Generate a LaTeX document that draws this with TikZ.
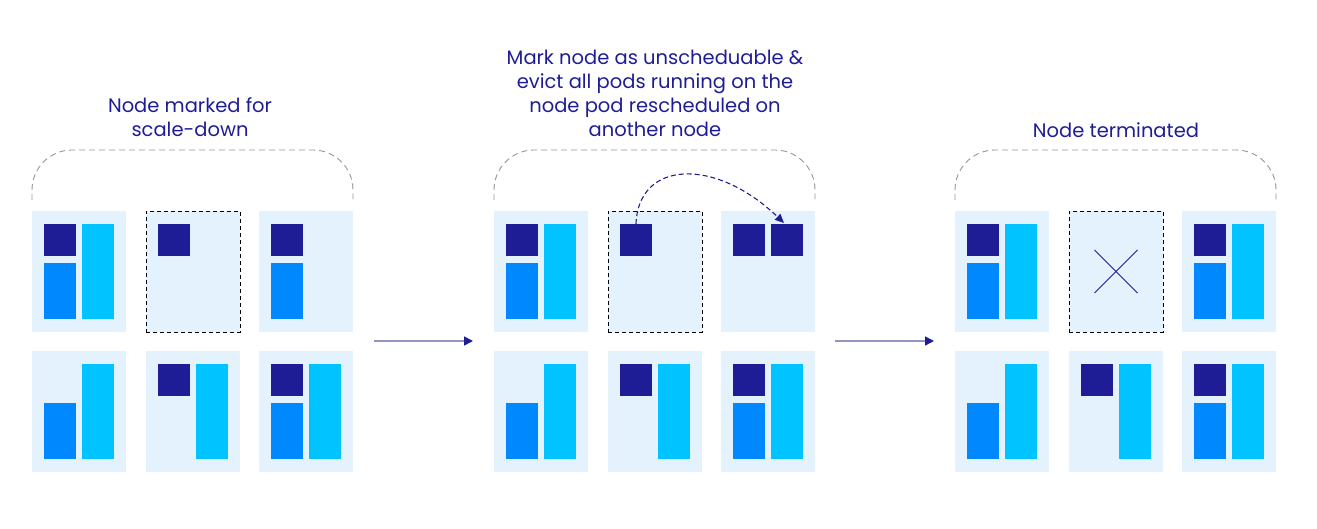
\documentclass[tikz,border=0pt]{standalone}
\usepackage{fontspec}
\setmainfont{Poppins}
\usetikzlibrary{arrows.meta}
\definecolor{dk}{RGB}{31,29,150}
\definecolor{bl}{RGB}{0,136,255}
\definecolor{cy}{RGB}{0,195,255}
\definecolor{bg}{RGB}{227,242,253}
\definecolor{gr}{RGB}{150,150,150}
\definecolor{ln}{RGB}{148,148,196}
\newcommand\podDBC[1]{%
  \node[podd] (#1d) at ([shift={(12,13)}]#1.north west) {};
  \node[podb] (#1b) at ([shift={(12,52)}]#1.north west) {};
  \node[podc] (#1c) at ([shift={(50,13)}]#1.north west) {};}
\newcommand\podDB[1]{%
  \node[podd] (#1d) at ([shift={(12,13)}]#1.north west) {};
  \node[podb] (#1b) at ([shift={(12,52)}]#1.north west) {};}
\newcommand\podBC[1]{%
  \node[podb] (#1b) at ([shift={(12,52)}]#1.north west) {};
  \node[podc] (#1c) at ([shift={(50,13)}]#1.north west) {};}
\newcommand\podDC[1]{%
  \node[podd] (#1d) at ([shift={(12,13)}]#1.north west) {};
  \node[podc] (#1c) at ([shift={(50,13)}]#1.north west) {};}
\newcommand\podD[1]{%
  \node[podd] (#1d) at ([shift={(12,13)}]#1.north west) {};}
\begin{document}
\begin{tikzpicture}[x=1pt,y=-1pt,
  nodebg/.style={fill=bg, minimum width=94pt, minimum height=121pt, inner sep=0pt, outer sep=0pt, anchor=north west},
  dashbox/.style={nodebg, draw=black, dash pattern=on 4pt off 3pt, line width=0.8pt},
  pod/.style={minimum width=32pt, inner sep=0pt, outer sep=0pt, anchor=north west},
  podd/.style={pod, fill=dk, minimum height=32pt},
  podb/.style={pod, fill=bl, minimum height=56pt},
  podc/.style={pod, fill=cy, minimum height=95pt},
  brace/.style={draw=gr, dash pattern=on 6pt off 4pt, line width=0.9pt, rounded corners=40pt},
  title/.style={text=dk, font=\fontsize{19.5}{24}\selectfont, align=center},
  flow/.style={draw=ln, line width=1.5pt, -{Triangle[length=9pt,width=9pt,color=dk]}},
  move/.style={draw=dk, line width=1.1pt, dash pattern=on 5pt off 3pt, -{Triangle[length=9pt,width=8pt]}},
  cross/.style={draw=dk, line width=1pt}
]
\useasboundingbox (0,0) rectangle (1317,529);
% group 1
\node[nodebg] (g1a) at (32,211) {};
\node[dashbox] (g1b) at (146,211) {};
\node[nodebg] (g1c) at (259,211) {};
\node[nodebg] (g1d) at (32,351) {};
\node[nodebg] (g1e) at (146,351) {};
\node[nodebg] (g1f) at (259,351) {};
\podDBC{g1a}\podD{g1b}\podDB{g1c}\podBC{g1d}\podDC{g1e}\podDBC{g1f}
\draw[brace] ([shift={(0,-11)}]g1a.north west) |- ([shift={(0,-61)}]g1b.north) -| ([shift={(0,-11)}]g1c.north east);
\node[title] (t1) at ([shift={(-3,-93.5)}]g1b.north) {Node marked for\\scale-down};
% group 2
\node[nodebg] (g2a) at (494,211) {};
\node[dashbox] (g2b) at (608,211) {};
\node[nodebg] (g2c) at (721,211) {};
\node[nodebg] (g2d) at (494,351) {};
\node[nodebg] (g2e) at (608,351) {};
\node[nodebg] (g2f) at (721,351) {};
\podDBC{g2a}\podD{g2b}\podBC{g2d}\podDC{g2e}\podDBC{g2f}
\node[podd] (g2cd) at ([shift={(12,13)}]g2c.north west) {};
\node[podd] (g2ce) at ([shift={(50,13)}]g2c.north west) {};
\draw[brace] ([shift={(0,-11)}]g2a.north west) |- ([shift={(0,-61)}]g2b.north) -| ([shift={(0,-11)}]g2c.north east);
\node[title] (t2) at ([shift={(0,-118)}]g2b.north) {Mark node as unscheduable \&\\evict all pods running on the\\node pod rescheduled on\\another node};
\draw[move] (g2bd.north) .. controls ([shift={(2,-63)}]g2bd.north) and ([shift={(-57,-68)}]g2ce.north west) .. ([shift={(13,-1)}]g2ce.north west);
% group 3
\node[nodebg] (g3a) at (955,211) {};
\node[dashbox] (g3b) at (1069,211) {};
\node[nodebg] (g3c) at (1182,211) {};
\node[nodebg] (g3d) at (955,351) {};
\node[nodebg] (g3e) at (1069,351) {};
\node[nodebg] (g3f) at (1182,351) {};
\podDBC{g3a}\podDBC{g3c}\podBC{g3d}\podDC{g3e}\podDBC{g3f}
\draw[cross] ([shift={(-21.5,-21.5)}]g3b.center) -- ([shift={(21.5,21.5)}]g3b.center);
\draw[cross] ([shift={(-21.5,21.5)}]g3b.center) -- ([shift={(21.5,-21.5)}]g3b.center);
\draw[brace] ([shift={(0,-11)}]g3a.north west) |- ([shift={(0,-61)}]g3b.north) -| ([shift={(0,-11)}]g3c.north east);
\node[title] (t3) at ([shift={(0,-81)}]g3b.north) {Node terminated};
% flow arrows
\coordinate (f1s) at (374,341);
\coordinate (f1e) at (473,341);
\coordinate (f2s) at (835,341);
\coordinate (f2e) at (934,341);
\draw[flow] (f1s) -- (f1e);
\draw[flow] (f2s) -- (f2e);
\end{tikzpicture}
\end{document}
